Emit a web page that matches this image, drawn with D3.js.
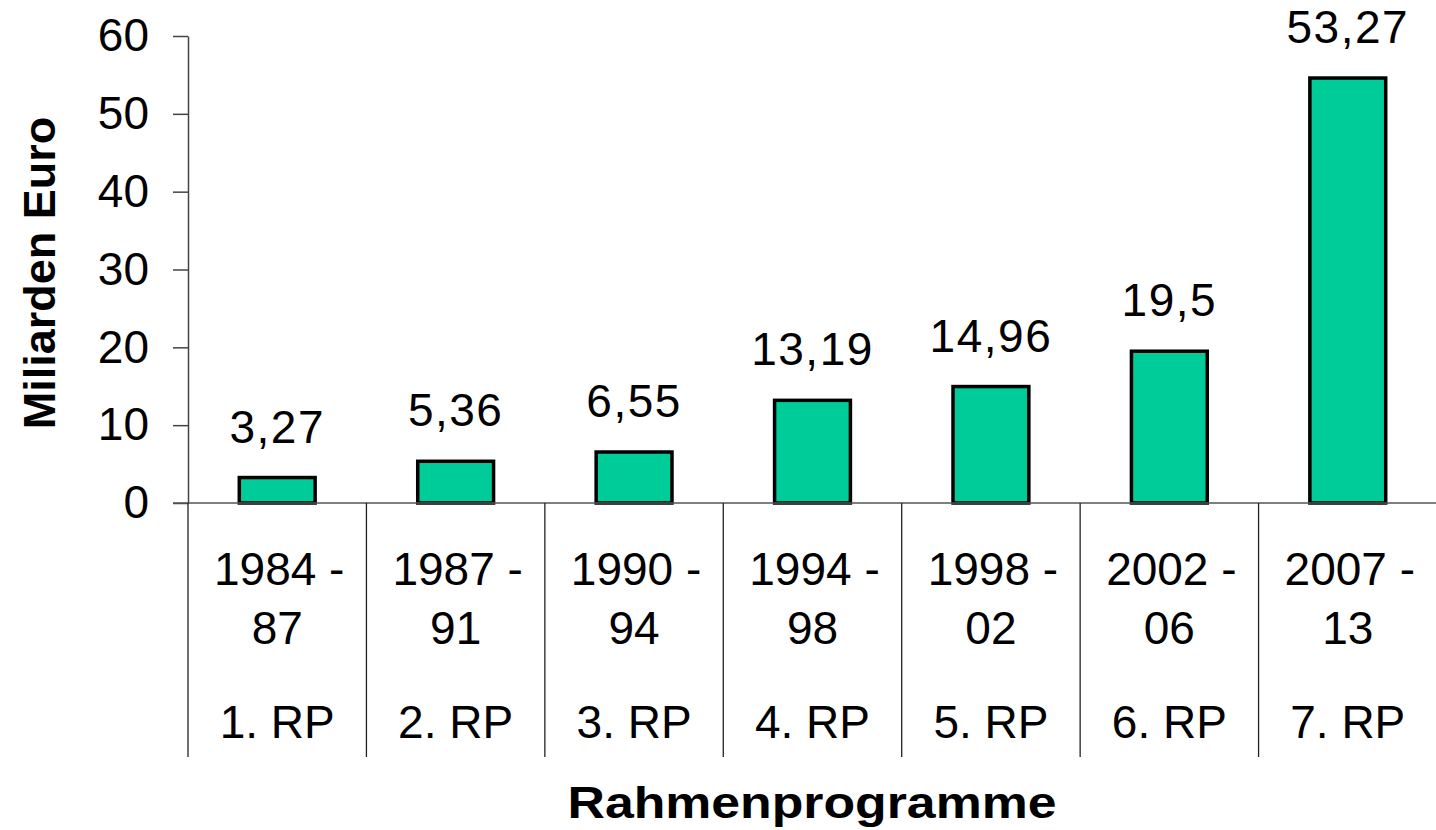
<!DOCTYPE html>
<html>
<head>
<meta charset="utf-8">
<script src="https://cdn.jsdelivr.net/npm/d3@7/dist/d3.min.js"></script>
<style>
  body { margin: 0; background: #fff; }
  text { font-family: Arial, "Liberation Sans", sans-serif; fill: #000; }
</style>
</head>
<body>
<svg id="chart"></svg>
<script>
// data
var periods = ["1984 -|87", "1987 -|91", "1990 -|94", "1994 -|98", "1998 -|02", "2002 -|06", "2007 -|13"];
var programmes = ["1. RP", "2. RP", "3. RP", "4. RP", "5. RP", "6. RP", "7. RP"];
var values = [3.27, 5.36, 6.55, 13.19, 14.96, 19.5, 54.6];
var valueLabels = ["3,27", "5,36", "6,55", "13,19", "14,96", "19,5", "53,27"];
var yTicks = [0, 10, 20, 30, 40, 50, 60];

var width = 1436, height = 830;
var plot = {left: 188, right: 1437, top: 36, bottom: 503};

var svg = d3.select("#chart")
    .attr("width", width)
    .attr("height", height);

var x = d3.scaleBand()
    .domain(d3.range(values.length))
    .range([plot.left, plot.right])
    .padding(0);
var y = d3.scaleLinear()
    .domain([0, 60])
    .range([plot.bottom, plot.top]);

var barW = x.bandwidth() * 0.425;

// y axis
var yAxis = svg.append("g")
    .attr("transform", "translate(" + plot.left + ",0)")
    .call(d3.axisLeft(y).tickValues(yTicks).tickSize(15).tickPadding(24).tickSizeOuter(0));
yAxis.select(".domain").attr("stroke", "#444").attr("stroke-width", 1.5);
yAxis.selectAll(".tick line").attr("stroke", "#444").attr("stroke-width", 1.5);
yAxis.selectAll(".tick text")
    .style("font-size", "46px")
    .attr("font-family", null);

// bars
svg.selectAll(".bar")
    .data(values)
    .enter().append("rect")
    .attr("class", "bar")
    .attr("x", function(d, i) { return x(i) + (x.bandwidth() - barW) / 2; })
    .attr("width", barW)
    .attr("y", function(d) { return y(d); })
    .attr("height", function(d) { return y(0) - y(d); })
    .attr("fill", "#00CC99")
    .attr("stroke", "#000")
    .attr("stroke-width", 3.5);

// x axis line and category dividers
svg.append("line")
    .attr("x1", plot.left - 15).attr("x2", width)
    .attr("y1", plot.bottom).attr("y2", plot.bottom)
    .attr("stroke", "#555").attr("stroke-width", 1.5);

svg.selectAll(".divider")
    .data(d3.range(values.length + 1))
    .enter().append("line")
    .attr("class", "divider")
    .attr("x1", function(i) { return plot.left + i * x.step(); })
    .attr("x2", function(i) { return plot.left + i * x.step(); })
    .attr("y1", plot.bottom).attr("y2", 757)
    .attr("stroke", "#222").attr("stroke-width", 1.3);

// value labels
svg.selectAll(".val")
    .data(values)
    .enter().append("text")
    .attr("class", "val")
    .attr("x", function(d, i) { return x(i) + x.bandwidth() / 2; })
    .attr("y", function(d) { return y(d) - 35; })
    .attr("text-anchor", "middle")
    .style("font-size", "46px")
    .style("letter-spacing", "1.5px")
    .text(function(d, i) { return valueLabels[i]; });

// category labels
var cat = svg.selectAll(".cat")
    .data(periods)
    .enter().append("text")
    .attr("class", "cat")
    .attr("text-anchor", "middle")
    .style("font-size", "46px");
cat.append("tspan")
    .attr("x", function(d, i) { return x(i) + x.bandwidth() / 2 + 2; })
    .attr("y", 585)
    .text(function(d) { return d.split("|")[0]; });
cat.append("tspan")
    .attr("x", function(d, i) { return x(i) + x.bandwidth() / 2; })
    .attr("y", 644)
    .text(function(d) { return d.split("|")[1]; });

svg.selectAll(".prog")
    .data(programmes)
    .enter().append("text")
    .attr("class", "prog")
    .attr("x", function(d, i) { return x(i) + x.bandwidth() / 2; })
    .attr("y", 738)
    .attr("text-anchor", "middle")
    .style("font-size", "46px")
    .text(function(d) { return d; });

// axis titles
svg.append("text")
    .attr("transform", "translate(55,273) rotate(-90)")
    .attr("text-anchor", "middle")
    .style("font-size", "45px")
    .style("font-weight", "bold")
    .text("Miliarden Euro");

svg.append("text")
    .attr("x", 812)
    .attr("y", 818)
    .attr("text-anchor", "middle")
    .attr("textLength", 489)
    .attr("lengthAdjust", "spacingAndGlyphs")
    .style("font-size", "44px")
    .style("font-weight", "bold")
    .text("Rahmenprogramme");
</script>
</body>
</html>
